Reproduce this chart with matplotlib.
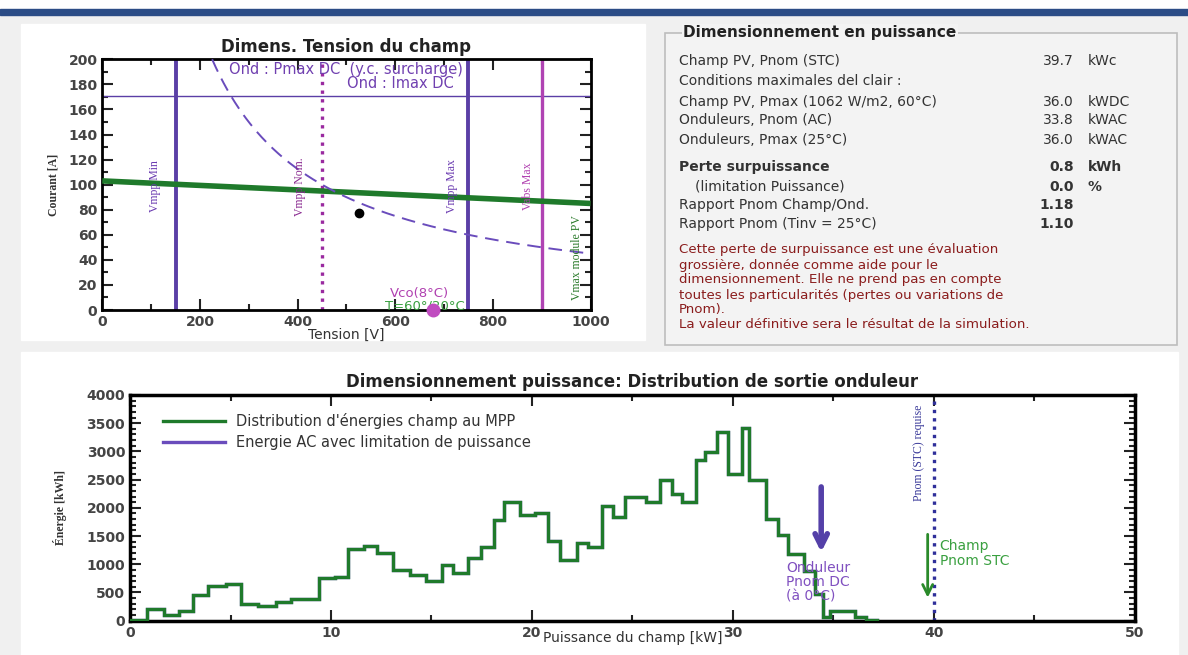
import numpy as np
import matplotlib
matplotlib.use("Agg")
import matplotlib.pyplot as plt
from matplotlib.patches import Rectangle
from matplotlib.ticker import MultipleLocator

W, H = 1188, 655

# ---------------- array voltage sizing ----------------
v_ends = [0, 1000]                 # V
i_array = [103, 85]                # A, array current at MPP
p_inv_max_dc = 45000               # W, inverter Pmax DC (incl. overload)
i_inv_max_dc = 171                 # A
v_mpp_min = 150
v_mpp_nom = 450
v_mpp_max = 750
v_abs_max = 900
op_point = (525, 77)
voc_point = (678, 0)

# ---------------- power sizing summary ----------------
table_labels = ["Champ PV, Pnom (STC)",
                "Conditions maximales del clair :",
                "Champ PV, Pmax (1062 W/m2, 60°C)",
                "Onduleurs, Pnom (AC)",
                "Onduleurs, Pmax (25°C)",
                "Perte surpuissance",
                "(limitation Puissance)",
                "Rapport Pnom Champ/Ond.",
                "Rapport Pnom (Tinv = 25°C)"]
table_values = ["39.7", "", "36.0", "33.8", "36.0", "0.8", "0.0", "1.18", "1.10"]
table_units = ["kWc", "", "kWDC", "kWAC", "kWAC", "kWh", "%", "", ""]
table_bold = [False, False, False, False, False, True, False, False, False]
note_lines = ["Cette perte de surpuissance est une évaluation",
              "grossière, donnée comme aide pour le",
              "dimensionnement. Elle ne prend pas en compte",
              "toutes les particularités (pertes ou variations de",
              "Pnom).",
              "La valeur définitive sera le résultat de la simulation."]

# ---------------- inverter output distribution ----------------
p_edges = [0, 0.82, 1.68, 2.44, 3.14, 3.9, 4.76, 5.52, 6.38, 7.24,
           8.0, 8.67, 9.4, 10.19, 10.83, 11.62, 12.28, 13.08, 13.92, 14.72,
           15.51, 16.09, 16.83, 17.49, 18.12, 18.6, 19.4, 20.15, 20.81, 21.39,
           22.26, 22.8, 23.47, 24.05, 24.63, 25.7, 26.37, 26.96, 27.46, 28.17,
           28.62, 29.2, 29.78, 30.44, 30.82, 31.65, 32.26, 32.76, 33.54, 34.09,
           34.5, 34.85, 36.08, 36.63, 37.2]
e_mpp = [20, 200, 95, 177, 450, 615, 650, 295, 260,
         330, 390, 380, 760, 780, 1275, 1320, 1205, 890, 805,
         710, 995, 845, 1120, 1315, 1780, 2110, 1875, 1905, 1415,
         1070, 1370, 1310, 2035, 1830, 2200, 2095, 2500, 2250, 2110,
         2840, 2990, 3350, 2600, 3410, 2500, 1810, 1515, 1190, 885,
         480, 70, 180, 70, 15]
e_ac = list(e_mpp)                 # no clipping: AC distribution identical
p_nom_stc = 39.7
p_inv_dc_0c = 34.4
p_nom_required = 40.0

# ---------------- colours ----------------
C_GREEN = "#1f7a2b"
C_PURPLE = "#5b3fa6"
C_RED = "#8a1c1c"

fig = plt.figure(figsize=(W / 100, H / 100), dpi=100)
fig.patch.set_facecolor("#f0f0f0")


def px_axes(x0, y0, x1, y1, **kw):
    return fig.add_axes([x0 / W, 1 - y1 / H, (x1 - x0) / W, (y1 - y0) / H], **kw)


# background layer in pixel coordinates
bg = fig.add_axes([0, 0, 1, 1], zorder=-5)
bg.set_xlim(0, W)
bg.set_ylim(H, 0)
bg.axis("off")
bg.add_patch(Rectangle((0, 0), W, 9, color="white"))
bg.add_patch(Rectangle((0, 9), W, 6, color="#2b4c86"))
bg.add_patch(Rectangle((21, 24), 624, 316, color="white"))
bg.add_patch(Rectangle((21, 352), 1157, 303, color="white"))
bg.add_patch(Rectangle((665, 33), 512, 312, facecolor="#f3f3f3",
                       edgecolor="#bdbdbd", lw=1.2))
bg.text(683, 33, "Dimensionnement en puissance", fontsize=11, fontweight="bold",
        color="#222222", va="center", ha="left",
        bbox=dict(facecolor="#f3f3f3", edgecolor="none", pad=1))

row_y = [61, 81, 102, 120, 140, 167, 187, 205, 224]
for y, lab, val, unit, bold in zip(row_y, table_labels, table_values,
                                    table_units, table_bold):
    x_lab = 695 if lab.startswith("(") else 679
    w_lab = "bold" if bold else "normal"
    w_val = "bold" if (bold or lab.startswith("(") or lab.startswith("Rapport")) else "normal"
    bg.text(x_lab, y, lab, fontsize=10, fontweight=w_lab, color="#333333",
            va="center", ha="left")
    if val:
        bg.text(1074, y, val, fontsize=10, fontweight=w_val, color="#333333",
                va="center", ha="right")
    if unit:
        bg.text(1088, y, unit, fontsize=10, fontweight=w_val, color="#333333",
                va="center", ha="left")
for k, line in enumerate(note_lines):
    bg.text(679, 250 + 15 * k, line, fontsize=9.6, color=C_RED,
            va="center", ha="left")

# ---------------- top-left: voltage sizing chart ----------------
ax1 = px_axes(102.3, 59.3, 590.5, 310)
ax1.set_xlim(0, 1000)
ax1.set_ylim(0, 200)
ax1.plot(v_ends, i_array, color=C_GREEN, lw=4, solid_capstyle="butt", zorder=3)
v_curve = np.linspace(p_inv_max_dc / 200, 1000, 200)
ax1.plot(v_curve, p_inv_max_dc / v_curve, color="#6a4cbc", lw=1.4,
         dashes=(7, 4), zorder=3)
ax1.axhline(i_inv_max_dc, color=C_PURPLE, lw=1.0, zorder=2)
ax1.axvline(v_mpp_min, color=C_PURPLE, lw=2.8, zorder=2)
ax1.axvline(v_mpp_max, color=C_PURPLE, lw=2.8, zorder=2)
ax1.axvline(v_mpp_nom, color="#9a2aa0", lw=2.4, ls=(0, (1, 1.6)), zorder=2)
ax1.axvline(v_abs_max, color="#b043b3", lw=2.4, zorder=2)
ax1.plot(*op_point, "o", color="black", ms=6, zorder=4)
ax1.plot(*voc_point, "o", color="#c04cc0", ms=9, zorder=4, clip_on=False)

ax1.text(0.5, 0.96, "Ond : Pmax DC  (y.c. surcharge)", transform=ax1.transAxes,
         ha="center", va="center", fontsize=10.5, color="#7040b0")
ax1.text(0.61, 0.905, "Ond : Imax DC", transform=ax1.transAxes,
         ha="center", va="center", fontsize=10.5, color="#7040b0")
narrow = ["Liberation Sans Narrow", "Liberation Serif", "DejaVu Sans"]
for xv, yv, txt, col in [(108, 99, "Vmpp Min", "#6a3ab0"),
                         (405, 98, "Vmpp Nom.", "#8a2a90"),
                         (717, 99, "Vmpp Max", "#6a3ab0"),
                         (871, 99, "Vabs Max", "#b040b0"),
                         (973, 42, "Vmax module PV", "#2a7a2a")]:
    ax1.text(xv, yv, txt, rotation=90, ha="center", va="center",
             fontsize=8.5, color=col, family=narrow)
ax1.text(590, 13.5, "Vco(8°C)", fontsize=9.5, color="#b040b0", ha="left", va="center")
ax1.text(580, 3.0, "T=60°/20°C", fontsize=9.5, color="#3aa040", ha="left", va="center")

ax1.xaxis.set_major_locator(MultipleLocator(200))
ax1.xaxis.set_minor_locator(MultipleLocator(100))
ax1.yaxis.set_major_locator(MultipleLocator(20))
ax1.yaxis.set_minor_locator(MultipleLocator(10))
ax1.tick_params(which="both", direction="in", top=True, right=True,
                width=1.5, color="#222222")
ax1.tick_params(which="major", length=8, labelsize=10, labelcolor="#444444")
ax1.tick_params(which="minor", length=4)
for lab in ax1.get_xticklabels() + ax1.get_yticklabels():
    lab.set_fontweight("bold")
for s in ax1.spines.values():
    s.set_linewidth(2)
ax1.set_title("Dimens. Tension du champ", fontsize=12, fontweight="bold",
              color="#222222", pad=5)
ax1.set_xlabel("Tension [V]", fontsize=10, color="#333333", labelpad=-1)
ax1.set_ylabel("Courant [A]", fontsize=8.5, color="#333333", family=narrow,
               fontweight="bold", labelpad=6)

# ---------------- bottom: output power distribution ----------------
ax2 = px_axes(130.1, 395, 1134.6, 620.7)
ax2.set_xlim(0, 50)
ax2.set_ylim(0, 4000)
ax2.stairs(e_ac, p_edges, color="#6a4cbc", lw=2.4, zorder=2,
           label="Energie AC avec limitation de puissance")
ax2.stairs(e_mpp, p_edges, color=C_GREEN, lw=2.4, zorder=3,
           label="Distribution d'énergies champ au MPP")
ax2.axvline(p_nom_required, color="#2f2f9a", lw=2.4, ls=(0, (1, 1.5)), zorder=2)
ax2.text(p_nom_required - 0.75, 2980, "Pnom (STC) requise", rotation=90,
         ha="center", va="center", fontsize=8.5, color="#3a3a9a", family=narrow)
ax2.annotate("", xy=(p_inv_dc_0c, 1165), xytext=(p_inv_dc_0c, 2420),
             arrowprops=dict(arrowstyle="->", lw=4, color="#5440a8",
                             mutation_scale=22))
ax2.text(32.65, 680, "Onduleur\nPnom DC\n(à 0°C)", fontsize=10, color="#8050c0",
         ha="left", va="center", linespacing=1.05, zorder=4)
ax2.annotate("", xy=(p_nom_stc, 360), xytext=(p_nom_stc, 1580),
             arrowprops=dict(arrowstyle="->", lw=2, color="#2a8a2a",
                             mutation_scale=18))
ax2.text(40.3, 1190, "Champ\nPnom STC", fontsize=10, color="#3aa040",
         ha="left", va="center", linespacing=1.15)

handles, labels = ax2.get_legend_handles_labels()
leg = ax2.legend(handles[::-1], labels[::-1], loc="upper left",
                 bbox_to_anchor=(0.02, 0.98), frameon=False, fontsize=10.5,
                 handlelength=4.2, handletextpad=0.8, labelspacing=0.45)
for t in leg.get_texts():
    t.set_color("#333333")

ax2.xaxis.set_major_locator(MultipleLocator(10))
ax2.xaxis.set_minor_locator(MultipleLocator(5))
ax2.yaxis.set_major_locator(MultipleLocator(500))
ax2.yaxis.set_minor_locator(MultipleLocator(100))
ax2.tick_params(which="both", direction="in", top=True, right=True,
                width=1.5, color="#222222")
ax2.tick_params(which="major", length=8, labelsize=10, labelcolor="#444444")
ax2.tick_params(which="minor", length=4)
for lab in ax2.get_xticklabels() + ax2.get_yticklabels():
    lab.set_fontweight("bold")
for s in ax2.spines.values():
    s.set_linewidth(2.5)
ax2.set_title("Dimensionnement puissance: Distribution de sortie onduleur",
              fontsize=12, fontweight="bold", color="#222222", pad=6)
ax2.set_xlabel("Puissance du champ [kW]", fontsize=10, color="#333333",
               labelpad=-6)
ax2.set_ylabel("Énergie [kWh]", fontsize=8.5, color="#333333", family=narrow,
               fontweight="bold", labelpad=14)

fig.savefig("out.png", dpi=100, facecolor=fig.get_facecolor())
